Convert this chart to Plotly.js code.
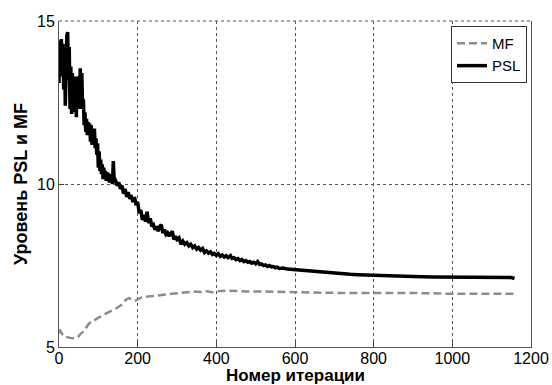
<!DOCTYPE html>
<html>
<head>
<meta charset="utf-8">
<script src="https://cdn.plot.ly/plotly-3.0.1.min.js"></script>
<style>html,body{margin:0;padding:0;background:#fff;}#chart{width:552px;height:385px;}</style>
</head>
<body>
<div id="chart"></div>
<script>
// PSL series (iteration, level)
var pslX = [0,2,4,6,8,10,12,14,16,18,20,22,24,26,28,30,32,34,36,38,40,42,44,46,48,50,52,54,56,58,60,62,64,66,68,70,72,74,76,78,80,
  82,84,86,88,90,92,94,96,98,100,102,104,106,108,110,112,114,116,118,120,124,128,132,136,138,140,144,148,152,156,160,164,168,172,176,180,184,188,192,196,200,
  204,208,212,216,220,224,228,232,236,240,244,248,252,256,260,264,268,272,276,280,284,288,292,296,300,305,310,315,320,325,330,335,340,345,350,355,360,365,370,375,380,385,390,395,
  400,405,410,415,420,425,430,436,440,445,450,455,460,465,470,475,480,485,490,495,500,505,510,515,520,525,530,535,540,545,550,555,560,570,580,590,600,610,620,630,640,650,660,670,680,690,
  700,720,740,760,780,800,830,860,900,950,1000,1050,1100,1150,1158];
var pslY = [13.1,14.4,13.3,14.45,13.6,14.3,12.9,14.2,12.4,13.8,14.55,14.66,13.2,14.2,12.3,13.6,12.15,13.4,12.5,13.1,12.2,13.3,12.05,13.0,12.4,13.3,12.3,13.55,12.6,13.4,12.3,12.6,11.8,12.2,11.6,12.0,11.5,11.9,11.55,11.85,11.3,
  11.8,11.2,11.6,11.25,11.7,11.1,11.4,10.9,11.25,10.5,11.0,10.4,10.75,10.3,10.6,10.15,10.5,10.2,10.4,10.1,10.35,10.05,10.3,10.0,10.7,10.2,10.1,9.95,10.05,9.85,9.95,9.7,9.85,9.6,9.75,9.55,9.6,9.45,9.6,9.35,9.45,
  9.1,9.2,8.9,9.05,8.85,9.15,8.8,8.95,8.7,8.75,8.6,8.7,8.55,8.7,8.75,8.5,8.6,8.45,8.5,8.4,8.5,8.55,8.3,8.4,8.3,8.35,8.15,8.25,8.15,8.2,8.1,8.15,8.05,8.1,8.0,8.05,7.97,8.02,7.9,7.95,7.88,7.92,7.84,7.87,
  7.81,7.86,7.78,7.82,7.76,7.8,7.74,7.8,7.72,7.74,7.68,7.71,7.65,7.68,7.62,7.65,7.6,7.62,7.57,7.6,7.55,7.62,7.53,7.55,7.5,7.52,7.47,7.5,7.46,7.47,7.43,7.45,7.41,7.42,7.39,7.38,7.35,7.36,7.33,7.33,7.31,7.31,7.29,7.29,7.27,7.27,
  7.25,7.24,7.23,7.22,7.21,7.2,7.18,7.17,7.16,7.15,7.14,7.13,7.13,7.13,7.1];

// MF series (iteration, level)
var mfX = [0,3,6,10,15,20,28,36,44,50,56,62,68,75,82,90,100,110,120,130,140,150,160,170,178,186,194,200,210,220,235,250,265,280,295,310,325,340,360,375,390,410,430,450,480,520,560,600,650,700,800,900,950,1000,1100,1158];
var mfY = [5.42,5.5,5.45,5.35,5.32,5.3,5.28,5.27,5.28,5.33,5.42,5.47,5.58,5.7,5.78,5.82,5.9,5.95,6.03,6.08,6.15,6.22,6.3,6.45,6.5,6.45,6.42,6.46,6.52,6.54,6.56,6.59,6.6,6.63,6.65,6.67,6.7,6.7,6.69,6.71,6.68,6.72,6.73,6.71,6.7,6.7,6.69,6.69,6.68,6.66,6.66,6.66,6.65,6.63,6.63,6.63];

var xTicks = [0,200,400,600,800,1000,1200];
var yTicks = [5,10,15];
var xTitle = 'Номер итерации';
var yTitle = 'Уровень PSL и MF';

var traces = [
  {x: mfX, y: mfY, name: 'MF', type: 'scatter', mode: 'lines',
   line: {color: '#8c8c8c', width: 2.5, dash: '8px,4px'}},
  {x: pslX, y: pslY, name: 'PSL', type: 'scatter', mode: 'lines',
   line: {color: '#000000', width: 3.5}}
];

var fam = 'Arial, Liberation Sans, sans-serif';
var axisFont = {family: fam, size: 16, color: '#000'};
var layout = {
  width: 552, height: 385,
  margin: {l: 59, r: 21, t: 21, b: 38, pad: 0},
  paper_bgcolor: '#fff', plot_bgcolor: '#fff',
  showlegend: true,
  legend: {x: 0.9915, y: 0.985, xanchor: 'right', yanchor: 'top',
    bgcolor: '#fff', bordercolor: '#333', borderwidth: 1,
    font: {family: fam, size: 15, color: '#000'},
    tracegroupgap: 0, itemwidth: 30},
  xaxis: {range: [0, 1200], tickvals: xTicks, ticktext: xTicks.map(String),
    ticks: 'inside', ticklen: 5, tickcolor: '#444', ticklabelstandoff: -3,
    showline: true, linecolor: '#555', linewidth: 1, mirror: false,
    showgrid: true, gridcolor: '#555', griddash: 'dot', gridwidth: 1,
    zeroline: false, tickfont: axisFont,
    title: {text: ''}},
  yaxis: {range: [5, 15], tickvals: yTicks, ticktext: yTicks.map(String),
    ticks: 'inside', ticklen: 5, tickcolor: '#444',
    showline: true, linecolor: '#555', linewidth: 1, mirror: true,
    showgrid: true, gridcolor: '#555', griddash: 'dot', gridwidth: 1,
    zeroline: false, tickfont: axisFont,
    title: {text: yTitle, font: {family: fam, size: 18, color: '#000', weight: 'bold'}, standoff: 4}},
  annotations: [{text: '<b>' + xTitle + '</b>', xref: 'paper', yref: 'paper', x: 0.5, y: -0.052,
    xanchor: 'center', yanchor: 'top', showarrow: false,
    font: {family: fam, size: 17, color: '#000'}}],
  shapes: [{type: 'line', xref: 'paper', yref: 'paper', x0: 0, x1: 1, y0: 1, y1: 1,
    line: {color: '#555', width: 1, dash: 'dot'}}]
};

Plotly.newPlot('chart', traces, layout, {displayModeBar: false, staticPlot: true});
</script>
</body>
</html>
